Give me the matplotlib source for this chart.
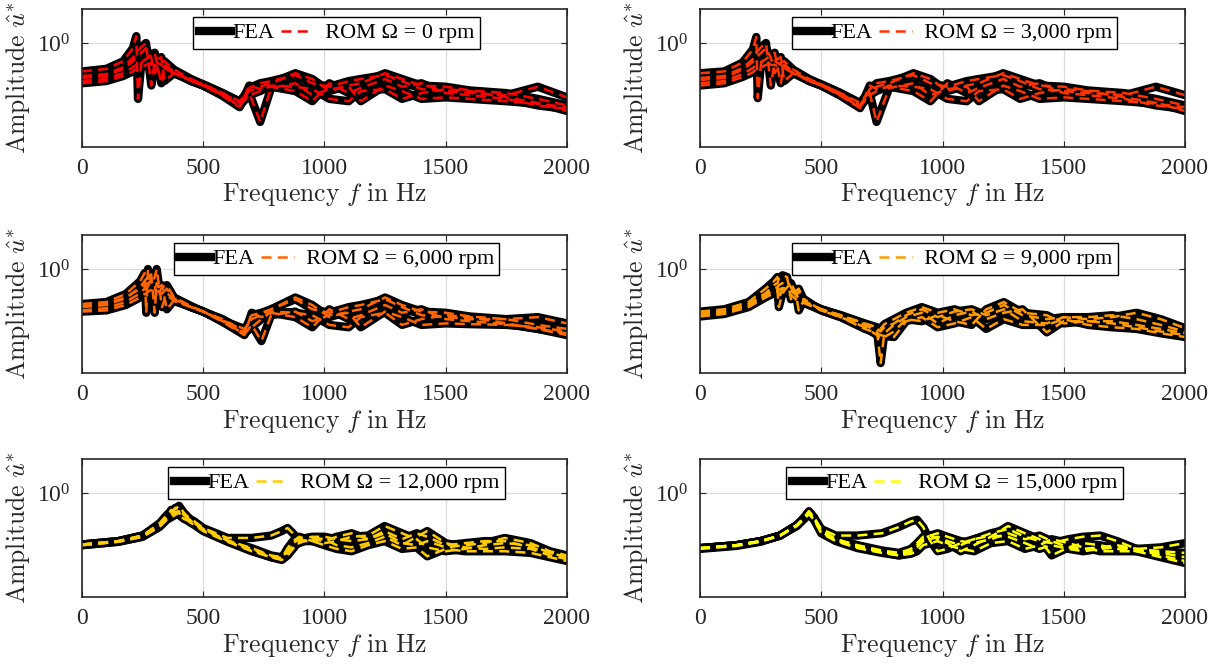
import matplotlib
matplotlib.use("Agg")
import matplotlib.pyplot as plt
from matplotlib.lines import Line2D
from matplotlib.ticker import FixedLocator, NullLocator

plt.rcParams['font.family'] = ['Liberation Serif', 'DejaVu Serif']
plt.rcParams['mathtext.fontset'] = 'cm'

speeds = ['0', '3,000', '6,000', '9,000', '12,000', '15,000']
rom_colors = ['#ff0000', '#ff3300', '#ff6600', '#ff9900', '#ffcc00', '#ffff00']

# 0 rpm
freq_0 = [0, 100, 170, 210, 224, 231, 245, 264, 286, 300, 327, 340, 380, 450, 500, 580, 650,
          690, 735, 780, 880, 950, 1020, 1100, 1150, 1250, 1320, 1400, 1500, 1600, 1750, 1880, 2000]
amp_0 = [
    [0.56, 0.59, 0.69, 0.90, 1.15, 0.32, 0.67, 0.69, 0.64, 0.64, 0.60, 0.60, 0.54, 0.47, 0.43, 0.36, 0.295,
     0.40, 0.44, 0.46, 0.52, 0.44, 0.41, 0.46, 0.48, 0.52, 0.46, 0.39, 0.375, 0.36, 0.345, 0.41, 0.33],
    [0.51, 0.53, 0.61, 0.74, 0.82, 0.85, 0.92, 1.00, 0.42, 0.69, 0.64, 0.61, 0.54, 0.46, 0.42, 0.345, 0.275,
     0.36, 0.20, 0.40, 0.44, 0.345, 0.39, 0.41, 0.305, 0.42, 0.375, 0.32, 0.33, 0.32, 0.305, 0.29, 0.27],
    [0.46, 0.48, 0.54, 0.61, 0.64, 0.65, 0.68, 0.72, 0.78, 0.82, 0.44, 0.64, 0.56, 0.46, 0.42, 0.34, 0.27,
     0.42, 0.39, 0.41, 0.375, 0.305, 0.44, 0.36, 0.40, 0.48, 0.41, 0.44, 0.36, 0.345, 0.32, 0.28, 0.26],
    [0.44, 0.46, 0.51, 0.56, 0.59, 0.59, 0.61, 0.64, 0.67, 0.69, 0.75, 0.46, 0.54, 0.47, 0.42, 0.35, 0.28,
     0.345, 0.375, 0.42, 0.41, 0.39, 0.32, 0.305, 0.375, 0.39, 0.32, 0.36, 0.39, 0.375, 0.33, 0.295, 0.25],
    [0.49, 0.51, 0.59, 0.69, 0.75, 0.77, 0.82, 0.90, 0.74, 0.54, 0.67, 0.69, 0.58, 0.48, 0.43, 0.36, 0.305,
     0.375, 0.41, 0.44, 0.54, 0.48, 0.375, 0.42, 0.44, 0.54, 0.48, 0.42, 0.41, 0.38, 0.36, 0.32, 0.28],
]

# 3,000 rpm
freq_1 = [0, 100, 175, 218, 232, 238, 252, 272, 292, 308, 333, 347, 385, 450, 500, 580, 660,
          700, 728, 780, 880, 950, 1020, 1100, 1150, 1250, 1320, 1400, 1500, 1600, 1750, 1880, 2000]
amp_1 = [
    [0.54, 0.56, 0.67, 0.88, 1.13, 0.325, 0.67, 0.69, 0.64, 0.64, 0.60, 0.60, 0.54, 0.47, 0.43, 0.36, 0.28,
     0.39, 0.44, 0.46, 0.52, 0.44, 0.41, 0.46, 0.48, 0.52, 0.46, 0.39, 0.375, 0.36, 0.345, 0.41, 0.345],
    [0.49, 0.51, 0.60, 0.72, 0.82, 0.85, 0.92, 1.00, 0.42, 0.69, 0.64, 0.61, 0.54, 0.46, 0.42, 0.345, 0.27,
     0.36, 0.20, 0.40, 0.44, 0.345, 0.39, 0.41, 0.305, 0.42, 0.375, 0.32, 0.33, 0.32, 0.305, 0.29, 0.27],
    [0.44, 0.46, 0.53, 0.60, 0.64, 0.65, 0.68, 0.72, 0.78, 0.82, 0.44, 0.64, 0.56, 0.46, 0.42, 0.34, 0.265,
     0.42, 0.39, 0.41, 0.375, 0.305, 0.44, 0.36, 0.40, 0.48, 0.41, 0.44, 0.36, 0.345, 0.32, 0.28, 0.26],
    [0.42, 0.44, 0.50, 0.55, 0.59, 0.59, 0.61, 0.64, 0.67, 0.69, 0.75, 0.46, 0.54, 0.47, 0.42, 0.35, 0.275,
     0.345, 0.375, 0.42, 0.41, 0.39, 0.32, 0.305, 0.375, 0.39, 0.32, 0.36, 0.39, 0.375, 0.33, 0.295, 0.25],
    [0.47, 0.49, 0.58, 0.68, 0.75, 0.77, 0.82, 0.90, 0.74, 0.54, 0.67, 0.69, 0.58, 0.48, 0.43, 0.36, 0.295,
     0.375, 0.41, 0.44, 0.54, 0.48, 0.375, 0.42, 0.44, 0.54, 0.48, 0.42, 0.41, 0.38, 0.36, 0.32, 0.28],
]

# 6,000 rpm
freq_2 = [0, 100, 180, 240, 258, 265, 272, 285, 300, 308, 330, 350, 380, 450, 500, 580, 670,
          700, 740, 780, 880, 950, 1020, 1100, 1150, 1250, 1320, 1400, 1500, 1600, 1750, 1880, 2000]
amp_2 = [
    [0.49, 0.51, 0.60, 0.78, 0.92, 0.41, 1.00, 0.75, 0.67, 0.64, 0.61, 0.59, 0.52, 0.46, 0.42, 0.36, 0.28,
     0.39, 0.41, 0.44, 0.54, 0.44, 0.41, 0.46, 0.48, 0.54, 0.46, 0.39, 0.375, 0.36, 0.36, 0.375, 0.33],
    [0.46, 0.48, 0.55, 0.69, 0.78, 0.82, 0.85, 0.92, 0.41, 0.75, 0.61, 0.67, 0.54, 0.46, 0.42, 0.345, 0.265,
     0.32, 0.23, 0.39, 0.42, 0.345, 0.39, 0.41, 0.305, 0.42, 0.375, 0.32, 0.33, 0.325, 0.32, 0.305, 0.28],
    [0.43, 0.45, 0.51, 0.61, 0.67, 0.68, 0.71, 0.75, 0.85, 1.00, 0.46, 0.61, 0.55, 0.46, 0.42, 0.34, 0.26,
     0.41, 0.375, 0.41, 0.375, 0.305, 0.44, 0.36, 0.39, 0.48, 0.41, 0.44, 0.36, 0.345, 0.325, 0.295, 0.27],
    [0.42, 0.43, 0.48, 0.56, 0.60, 0.61, 0.63, 0.65, 0.68, 0.69, 0.72, 0.44, 0.53, 0.46, 0.42, 0.35, 0.27,
     0.305, 0.36, 0.42, 0.41, 0.39, 0.32, 0.305, 0.375, 0.41, 0.32, 0.36, 0.39, 0.375, 0.33, 0.295, 0.26],
    [0.47, 0.49, 0.56, 0.67, 0.72, 0.74, 0.75, 0.78, 0.72, 0.56, 0.69, 0.72, 0.56, 0.47, 0.42, 0.35, 0.295,
     0.36, 0.39, 0.44, 0.56, 0.48, 0.375, 0.42, 0.44, 0.56, 0.48, 0.42, 0.41, 0.38, 0.36, 0.32, 0.295],
]

# 9,000 rpm
freq_3 = [0, 100, 200, 270, 305, 319, 325, 340, 359, 375, 395, 407, 430, 500, 580, 680, 730, 745,
          760, 800, 850, 915, 980, 1050, 1120, 1180, 1253, 1330, 1430, 1500, 1600, 1700, 1800, 1900, 2000]
amp_3 = [
    [0.42, 0.44, 0.51, 0.67, 0.78, 0.85, 0.54, 0.67, 0.61, 0.59, 0.54, 0.52, 0.50, 0.44, 0.39, 0.33, 0.305, 0.295,
     0.325, 0.36, 0.41, 0.46, 0.41, 0.44, 0.39, 0.41, 0.48, 0.39, 0.36, 0.375, 0.36, 0.375, 0.41, 0.36, 0.30],
    [0.41, 0.42, 0.49, 0.61, 0.72, 0.75, 0.82, 0.88, 0.85, 0.54, 0.64, 0.67, 0.52, 0.44, 0.38, 0.32, 0.28, 0.147,
     0.27, 0.32, 0.375, 0.41, 0.33, 0.39, 0.42, 0.36, 0.41, 0.44, 0.275, 0.345, 0.345, 0.345, 0.32, 0.295, 0.27],
    [0.39, 0.41, 0.47, 0.58, 0.64, 0.65, 0.46, 0.61, 0.69, 0.75, 0.61, 0.43, 0.54, 0.43, 0.375, 0.305, 0.26, 0.24,
     0.25, 0.28, 0.36, 0.345, 0.39, 0.345, 0.32, 0.44, 0.51, 0.41, 0.39, 0.33, 0.345, 0.33, 0.305, 0.28, 0.26],
    [0.38, 0.40, 0.46, 0.56, 0.61, 0.63, 0.65, 0.68, 0.67, 0.64, 0.59, 0.56, 0.50, 0.43, 0.375, 0.295, 0.27, 0.26,
     0.255, 0.25, 0.345, 0.375, 0.305, 0.33, 0.375, 0.295, 0.36, 0.32, 0.32, 0.36, 0.32, 0.305, 0.295, 0.27, 0.25],
    [0.40, 0.42, 0.48, 0.59, 0.67, 0.69, 0.72, 0.75, 0.78, 0.69, 0.56, 0.64, 0.51, 0.44, 0.39, 0.325, 0.295, 0.28,
     0.305, 0.33, 0.39, 0.44, 0.375, 0.42, 0.44, 0.39, 0.44, 0.345, 0.33, 0.375, 0.375, 0.39, 0.36, 0.32, 0.28],
]

# 12,000 rpm
freq_4 = [0, 150, 250, 320, 350, 368, 385, 400, 420, 445, 464, 500, 600, 700, 780, 824, 848, 870,
          896, 950, 1000, 1050, 1112, 1180, 1248, 1320, 1380, 1424, 1500, 1580, 1660, 1744, 1850, 1930, 2000]
amp_4 = [
    [0.35, 0.375, 0.42, 0.54, 0.64, 0.69, 0.72, 0.77, 0.67, 0.59, 0.56, 0.49, 0.40, 0.40, 0.42, 0.46, 0.49, 0.44,
     0.375, 0.39, 0.375, 0.41, 0.44, 0.39, 0.44, 0.36, 0.345, 0.375, 0.33, 0.345, 0.36, 0.40, 0.36, 0.305, 0.28],
    [0.35, 0.375, 0.42, 0.52, 0.61, 0.71, 0.67, 0.64, 0.59, 0.56, 0.54, 0.48, 0.38, 0.32, 0.275, 0.265, 0.325, 0.375,
     0.41, 0.375, 0.36, 0.375, 0.41, 0.42, 0.51, 0.44, 0.39, 0.33, 0.305, 0.32, 0.345, 0.36, 0.345, 0.295, 0.27],
    [0.345, 0.37, 0.41, 0.51, 0.59, 0.64, 0.68, 0.69, 0.64, 0.58, 0.53, 0.47, 0.375, 0.31, 0.27, 0.26, 0.295, 0.345,
     0.36, 0.40, 0.39, 0.345, 0.33, 0.36, 0.41, 0.345, 0.41, 0.46, 0.36, 0.33, 0.32, 0.33, 0.32, 0.28, 0.26],
    [0.345, 0.37, 0.41, 0.50, 0.58, 0.61, 0.64, 0.67, 0.61, 0.55, 0.52, 0.46, 0.37, 0.305, 0.27, 0.255, 0.28, 0.32,
     0.375, 0.375, 0.345, 0.32, 0.305, 0.345, 0.375, 0.32, 0.33, 0.275, 0.32, 0.305, 0.305, 0.305, 0.295, 0.27, 0.25],
    [0.35, 0.375, 0.42, 0.52, 0.60, 0.67, 0.74, 0.72, 0.64, 0.56, 0.54, 0.48, 0.38, 0.325, 0.28, 0.27, 0.305, 0.36,
     0.39, 0.41, 0.41, 0.39, 0.375, 0.39, 0.46, 0.39, 0.44, 0.41, 0.345, 0.36, 0.375, 0.375, 0.33, 0.295, 0.275],
]

# 15,000 rpm
freq_5 = [0, 150, 250, 330, 400, 430, 449, 470, 500, 560, 650, 750, 820, 870, 895, 920, 950,
          980, 1020, 1075, 1130, 1200, 1270, 1340, 1400, 1450, 1520, 1580, 1650, 1720, 1800, 1900, 2000]
amp_5 = [
    [0.325, 0.345, 0.375, 0.42, 0.52, 0.61, 0.69, 0.61, 0.48, 0.42, 0.42, 0.44, 0.50, 0.56, 0.58, 0.50, 0.375,
     0.305, 0.32, 0.36, 0.39, 0.44, 0.48, 0.41, 0.375, 0.36, 0.39, 0.41, 0.42, 0.375, 0.32, 0.33, 0.36],
    [0.325, 0.345, 0.375, 0.42, 0.52, 0.60, 0.68, 0.60, 0.46, 0.39, 0.345, 0.31, 0.295, 0.32, 0.36, 0.41, 0.42,
     0.39, 0.36, 0.305, 0.345, 0.41, 0.51, 0.44, 0.39, 0.28, 0.33, 0.36, 0.345, 0.32, 0.305, 0.295, 0.27],
    [0.325, 0.345, 0.375, 0.42, 0.52, 0.60, 0.67, 0.59, 0.45, 0.38, 0.33, 0.30, 0.28, 0.295, 0.33, 0.375, 0.39,
     0.41, 0.375, 0.345, 0.39, 0.42, 0.41, 0.36, 0.32, 0.345, 0.32, 0.305, 0.32, 0.33, 0.32, 0.28, 0.25],
    [0.32, 0.34, 0.37, 0.42, 0.51, 0.59, 0.65, 0.58, 0.44, 0.375, 0.325, 0.295, 0.28, 0.29, 0.305, 0.345, 0.36,
     0.375, 0.345, 0.32, 0.305, 0.36, 0.375, 0.32, 0.345, 0.39, 0.36, 0.33, 0.305, 0.305, 0.305, 0.27, 0.24],
    [0.325, 0.345, 0.375, 0.42, 0.52, 0.60, 0.68, 0.60, 0.46, 0.39, 0.34, 0.305, 0.29, 0.305, 0.345, 0.39, 0.42,
     0.44, 0.41, 0.375, 0.36, 0.39, 0.44, 0.39, 0.42, 0.375, 0.33, 0.32, 0.33, 0.345, 0.32, 0.305, 0.295],
]

freqs = [freq_0, freq_1, freq_2, freq_3, freq_4, freq_5]
amps = [amp_0, amp_1, amp_2, amp_3, amp_4, amp_5]

fig = plt.figure(figsize=(12.2, 6.66), dpi=100)
lefts = [0.0672, 0.5738]
bottoms = [0.7793, 0.4399, 0.1036]
w, h = 0.3975, 0.2072
edge = '#262626'

for i in range(6):
    ax = fig.add_axes([lefts[i % 2], bottoms[i // 2], w, h])
    c = rom_colors[i]
    # FEA first, ROM dashed on top
    for a in amps[i]:
        ax.plot(freqs[i], a, color='k', lw=6, solid_joinstyle='round')
    for a in amps[i]:
        ax.plot(freqs[i], a, color=c, lw=1.8, ls=(0, (4, 2.5)))
    ax.set_yscale('log')
    ax.set_ylim(0.12, 2.0)
    ax.set_xlim(0, 2000)
    ax.yaxis.set_major_locator(FixedLocator([1.0]))
    ax.yaxis.set_minor_locator(NullLocator())
    ax.set_xticks([0, 500, 1000, 1500, 2000])
    ax.tick_params(direction='in', length=4, top=True, right=True, labelsize=17,
                   color=edge, labelcolor='#262626', pad=8)
    ax.grid(True, color='#dcdcdc', lw=0.9)
    ax.set_axisbelow(True)
    for s in ax.spines.values():
        s.set_color(edge)
        s.set_linewidth(1.2)
    ax.set_xlabel(r'$\mathrm{Frequency}\ f\ \mathrm{in\ Hz}$', fontsize=18.5, color='#262626')
    ax.set_ylabel(r'$\mathrm{Amplitude}\ \hat{u}^{*}$', fontsize=18.5, color='#262626')
    ax.xaxis.set_label_coords(0.5, -0.25)
    ax.yaxis.set_label_coords(-0.103, 0.5)
    handles = [Line2D([], [], color='k', lw=6),
               Line2D([], [], color=c, lw=1.8, ls=(0, (4, 2.5)))]
    leg = ax.legend(handles, ['FEA', '  ROM \u03a9 = ' + speeds[i] + ' rpm'], loc='upper center',
                    bbox_to_anchor=(0.525, 0.94), ncol=2, fontsize=16, handlelength=1.45,
                    handletextpad=0.05, columnspacing=0.3, borderpad=0.25, borderaxespad=0.0,
                    fancybox=False, framealpha=1)
    leg.get_frame().set_edgecolor('k')
    leg.get_frame().set_linewidth(1.0)

fig.savefig('out.png', dpi=100)
